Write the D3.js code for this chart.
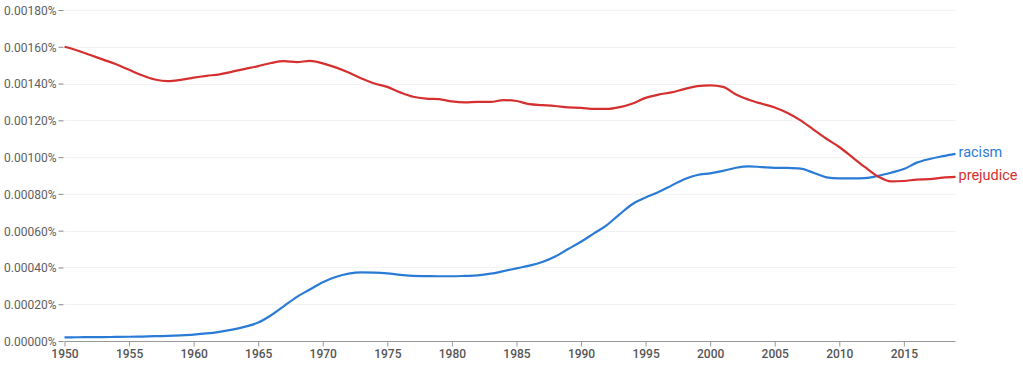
<!DOCTYPE html>
<html><head><meta charset="utf-8">
<script src="https://cdn.jsdelivr.net/npm/d3@7"></script>
<style>body{margin:0;background:#fff}svg{display:block;font-family:Roboto,sans-serif}</style>
</head><body><svg id="c" width="1023" height="367"></svg>
<script>
const years = d3.range(1950, 2020);
const racism = [0.000020,0.0000205,0.000021,0.0000215,0.000022,0.000023,0.000024,0.000026,0.000028,0.000031,0.000035,0.000041,0.000050,0.000062,0.000078,0.000100,0.000140,0.000190,0.000240,0.000280,
0.000320,0.000348,0.000366,0.000373,0.000372,0.000368,0.000360,0.000354,0.000353,0.000352,0.000352,0.000354,0.000357,0.000366,0.000380,0.000395,0.000410,0.000430,0.000460,0.000500,
0.000540,0.000585,0.000630,0.000690,0.000745,0.000780,0.000810,0.000845,0.000880,0.000903,0.000912,0.000925,0.000942,0.000950,0.000946,0.000942,0.000941,0.000937,0.000915,0.000890,
0.000884,0.000884,0.000886,0.000898,0.000915,0.000935,0.000970,0.000990,0.001005,0.001018];
const prejudice = [0.001600,0.001580,0.001555,0.001530,0.001505,0.001475,0.001445,0.001422,0.001413,0.001420,0.001432,0.001442,0.001450,0.001465,0.001480,0.001495,0.001512,0.001522,0.001517,0.001523,
0.001510,0.001488,0.001460,0.001428,0.001400,0.001382,0.001352,0.001328,0.001318,0.001315,0.001303,0.001298,0.001300,0.001300,0.001310,0.001305,0.001288,0.001283,0.001278,0.001270,
0.001268,0.001262,0.001262,0.001272,0.001292,0.001322,0.001340,0.001352,0.001370,0.001386,0.001390,0.001382,0.001340,0.001312,0.001290,0.001270,0.001240,0.001200,0.001150,0.001100,
0.001055,0.001000,0.000945,0.000895,0.000868,0.000870,0.000878,0.000880,0.000888,0.000892];
const seriesNames = ["racism", "prejudice"];
const seriesColors = ["#2a7bd5", "#d5302f"];
const yTicks = [0,0.0002,0.0004,0.0006,0.0008,0.001,0.0012,0.0014,0.0016,0.0018];
const xTicks = [1950,1955,1960,1965,1970,1975,1980,1985,1990,1995,2000,2005,2010,2015];

const svg = d3.select("#c");
const x = d3.scaleLinear().domain([1950, 2019]).range([64.5, 955.5]);
const y = d3.scaleLinear().domain([0, 0.0018]).range([341, 10]);

// grid
svg.append("g").selectAll("line").data(yTicks.slice(1)).join("line")
  .attr("x1", 64.5).attr("x2", 955.5)
  .attr("y1", d => Math.round(y(d)) + 0.5).attr("y2", d => Math.round(y(d)) + 0.5)
  .attr("stroke", "#f2f2f2").attr("stroke-width", 1);

// y axis
const ya = svg.append("g").attr("transform", "translate(58.5,0)")
  .call(d3.axisLeft(y).tickValues(yTicks).tickSize(0).tickPadding(2)
    .tickFormat(d => d3.format(".5f")(d) + "%"));
ya.select(".domain").remove();
ya.selectAll("text").attr("font-size", 12).attr("fill", "#606060").attr("font-family", "Roboto")
  .attr("transform", "translate(0,0.5)");
ya.selectAll(".tick").append("line").attr("x1", 0).attr("x2", 5).attr("stroke", "#888");

// x axis
const xa = svg.append("g").attr("transform", "translate(0,341.5)")
  .call(d3.axisBottom(x).tickValues(xTicks).tickSize(5).tickPadding(3).tickFormat(d3.format("d")));
xa.select(".domain").attr("stroke", "#999").attr("d", "M64.5,0H955.5");
xa.selectAll(".tick line").attr("stroke", "#999");
xa.selectAll("text").attr("font-size", 12).attr("font-weight", 500).attr("fill", "#555").attr("font-family", "Roboto");

// lines
const line = d3.line().x((d, i) => x(years[i])).y(d => y(d)).curve(d3.curveMonotoneX);
[racism, prejudice].forEach((s, k) => {
  svg.append("path").datum(s).attr("d", line).attr("fill", "none")
    .attr("stroke", seriesColors[k]).attr("stroke-width", 2.2).attr("stroke-linejoin", "round");
  svg.append("text").attr("x", x(2019) + 3).attr("y", y(s[s.length - 1]) + 3)
    .attr("font-size", 14.5).attr("fill", seriesColors[k]).text(seriesNames[k]);
});
</script></body></html>
